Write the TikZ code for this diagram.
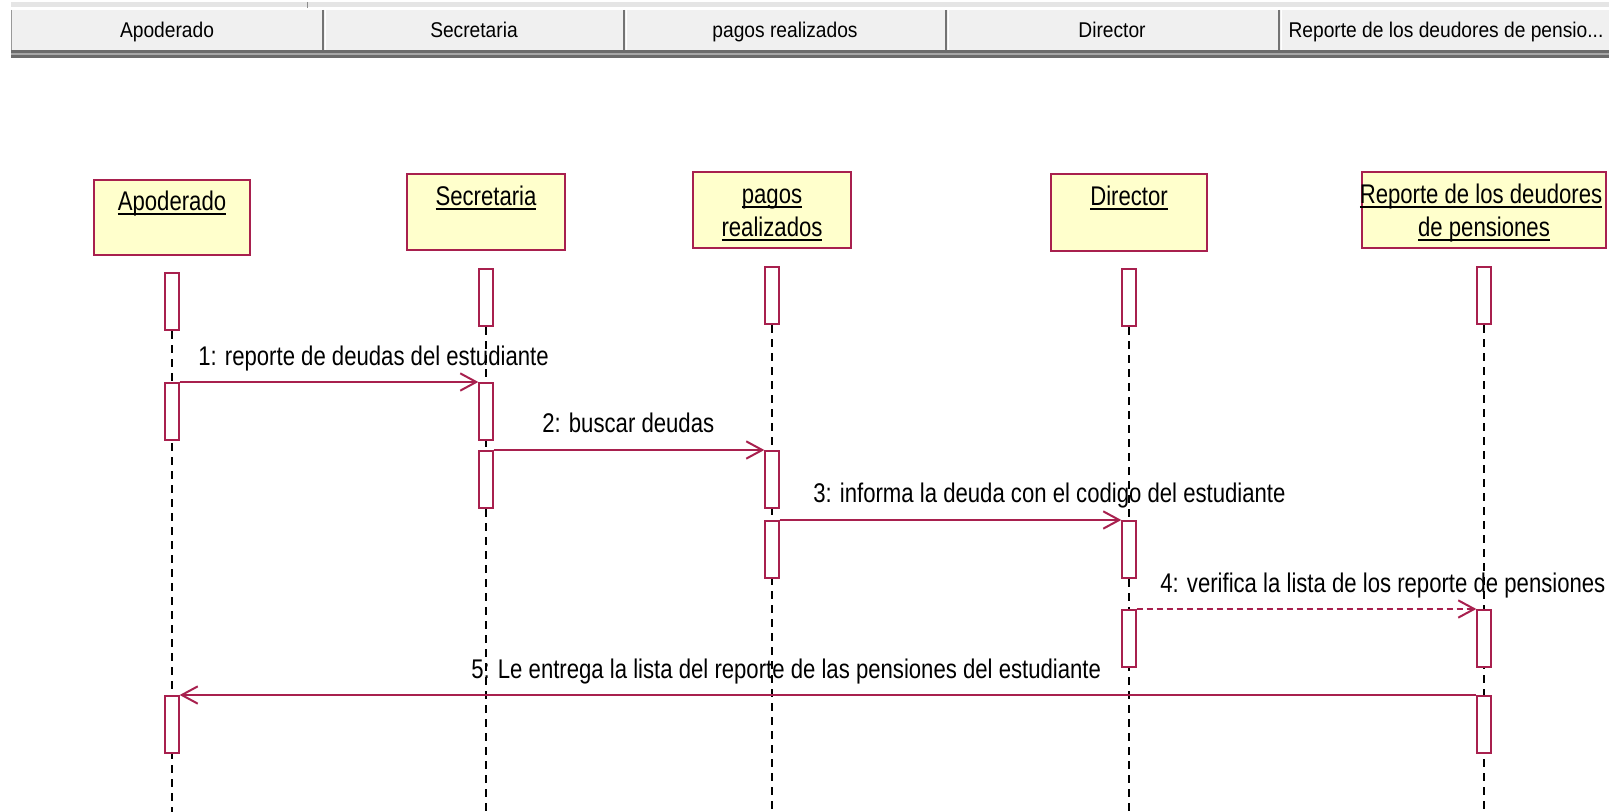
\documentclass[tikz,border=0pt]{standalone}
\usepackage{xcolor}
\usepackage{amsmath}
\usepackage{fontspec}
\usepackage{tikz}
\usetikzlibrary{positioning,arrows.meta,backgrounds}

\setmainfont{Liberation Sans}
\newfontfamily\umlfont[FakeStretch=0.82]{Liberation Sans}
\newfontfamily\barfont[FakeStretch=0.9]{Liberation Sans}

\definecolor{umlred}{RGB}{168,32,78}
\definecolor{umlyellow}{RGB}{255,255,204}
\definecolor{barfill}{RGB}{240,240,240}

\newcommand{\objul}[1]{\setbox0=\hbox{#1}\leavevmode\rlap{\rule[-3pt]{\wd0}{1.4pt}}\box0}

\tikzset{
  objbox/.style={draw=umlred, line width=1.5pt, fill=umlyellow, inner sep=0pt},
  objname/.style={font=\umlfont\fontsize{20.25}{24}\selectfont, anchor=base, inner sep=0pt},
  barname/.style={font=\barfont\fontsize{16}{19}\selectfont, anchor=base, inner sep=0pt},
  act/.style={draw=umlred, line width=1.5pt, fill=white, minimum width=10pt, minimum height=43pt, inner sep=0pt, anchor=north},
  lifeline/.style={black, line width=1.3pt, dash pattern=on 6pt off 4.5pt},
  msg/.style={umlred, line width=1.6pt, -{Straight Barb[length=12pt,width=13pt,line width=1.5pt]}},
  msglabel/.style={font=\umlfont\fontsize{20.25}{24}\selectfont, anchor=base west, inner sep=0pt},
}

\begin{document}
\begin{tikzpicture}[x=0.75pt,y=0.75pt,yscale=-1,xscale=1]
\useasboundingbox (0,0) rectangle (1609,812);

%Header bar
        \fill [black!10] (11,2) rectangle (1609,7) ;
        \fill [barfill] (11,10) rectangle (1609,50) ;
        \draw [black!40, line width=0.75pt] (11,10) -- (11,50) ;
        \fill [black!58] (11,50) rectangle (1609,53) ;
        \fill [black!35] (11,53) rectangle (1609,55) ;
        \fill [black!58] (11,55) rectangle (1609,58) ;
        \draw [black!45, line width=0.75pt] (307,2) -- (307,8) ;
        \draw [black!55, line width=1.5pt] (323,10) -- (323,50) ;
        \draw [white, line width=0.75pt] (325.5,10) -- (325.5,50) ;
        \draw [black!55, line width=1.5pt] (624,10) -- (624,50) ;
        \draw [white, line width=0.75pt] (626.5,10) -- (626.5,50) ;
        \draw [black!55, line width=1.5pt] (946,10) -- (946,50) ;
        \draw [white, line width=0.75pt] (948.5,10) -- (948.5,50) ;
        \draw [black!55, line width=1.5pt] (1279,10) -- (1279,50) ;
        \draw [white, line width=0.75pt] (1281.5,10) -- (1281.5,50) ;

% Header Text
        \node [barname] (hApo) at (167,38) {Apoderado};
        \node [barname] (hSec) at (474,38) {Secretaria};
        \node [barname] (hPag) at (785,38) {pagos realizados};
        \node [barname] (hDir) at (1112,38) {Director};
        \node [barname] (hRep) at (1446,38) {Reporte de los deudores de pensio...};

%Objects
        \node [objbox, minimum width=116.3pt, minimum height=56.3pt] (apo) at (172,217.5) {};
        \node [objbox, minimum width=117.8pt, minimum height=57pt] (sec) at (486,212) {};
        \node [objbox, minimum width=118.5pt, minimum height=57pt] (pag) at (772,210) {};
        \node [objbox, minimum width=117pt, minimum height=57.8pt] (dir) at (1129,212.5) {};
        \node [objbox, minimum width=182.3pt, minimum height=57pt] (rep) at (1484,210) {};

% Object Text
        \node [objname] (apoTxt) at (172,211) {\objul{Apoderado}};
        \node [objname] (secTxt) at (486,206) {\objul{Secretaria}};
        \node [objname] (pagTxtA) at (772,204) {\objul{pagos}};
        \node [objname] (pagTxtB) at (772,237) {\objul{realizados}};
        \node [objname] (dirTxt) at (1129,206) {\objul{Director}};
        \node [objname] (repTxtA) at (1481,204) {\objul{Reporte de los deudores}};
        \node [objname] (repTxtB) at (1484,237) {\objul{de pensiones}};

%Activations
        \node [act] (apo1) at (172,272) {};
        \node [act] (sec1) at (486,268) {};
        \node [act] (pag1) at (772,266) {};
        \node [act] (dir1) at (1129,268) {};
        \node [act] (rep1) at (1484,266) {};

        \node [act] (apo2) at (172,382) {};
        \node [act] (sec2) at (486,382) {};
        \node [act] (sec3) at (486,450) {};
        \node [act] (pag2) at (772,450) {};
        \node [act] (pag3) at (772,520) {};
        \node [act] (dir2) at (1129,520) {};
        \node [act] (dir3) at (1129,609) {};
        \node [act] (rep2) at (1484,609) {};
        \node [act] (rep3) at (1484,695) {};
        \node [act] (apo3) at (172,695) {};

% Lifelines
        \coordinate (apoEnd) at (172,812);
        \coordinate (secEnd) at (486,812);
        \coordinate (pagEnd) at (772,812);
        \coordinate (dirEnd) at (1129,812);
        \coordinate (repEnd) at (1484,812);
        \begin{scope}[on background layer]
        \draw [lifeline] (apo1.south) -- (apoEnd) ;
        \draw [lifeline] (sec1.south) -- (secEnd) ;
        \draw [lifeline] (pag1.south) -- (pagEnd) ;
        \draw [lifeline] (dir1.south) -- (dirEnd) ;
        \draw [lifeline] (rep1.south) -- (repEnd) ;
        \end{scope}

% Connection
        \draw [msg] (apo2.north east) -- (sec2.north west) ;
% Connection
        \draw [msg] (sec3.north east) -- (pag2.north west) ;
% Connection
        \draw [msg] (pag3.north east) -- (dir2.north west) ;
% Connection
        \draw [msg, dash pattern=on 4.5pt off 3pt] (dir3.north east) -- (rep2.north west) ;
% Connection
        \draw [msg] (rep3.north west) -- (apo3.north east) ;

% Text Node
        \node [msglabel] (m1) at (198,366) {1: reporte de deudas del estudiante};
        \node [msglabel] (m2) at (542,433) {2: buscar deudas};
        \node [msglabel] (m3) at (813,503) {3: informa la deuda con el codigo del estudiante};
        \node [msglabel] (m4) at (1160,592) {4: verifica la lista de los reporte de pensiones};
        \node [msglabel] (m5) at (471,678) {5: Le entrega la lista del reporte de las pensiones del estudiante};

\end{tikzpicture}
\end{document}
